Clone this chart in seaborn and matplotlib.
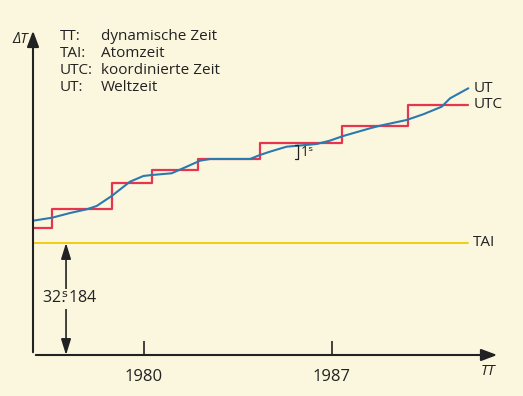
import matplotlib.pyplot as plt
import seaborn as sns
import pandas as pd

# Daten (x in Jahren, y in Bildeinheiten ueber der TT-Achse)
utc_jahre = [1975.87, 1976.59, 1978.80, 1980.29, 1982.02, 1984.32, 1987.37, 1989.82, 1992.06]
utc_werte = [127.3, 145.7, 171.7, 185.0, 196.0, 212.3, 229.0, 250.0, 250.0]

ut_jahre = [1975.87, 1976.58, 1977.25, 1977.87, 1978.24, 1978.80, 1979.48, 1979.98,
            1980.29, 1981.03, 1981.59, 1982.09, 1982.46, 1983.95, 1984.32, 1984.69,
            1985.31, 1986.43, 1986.92, 1987.42, 1988.42, 1988.79, 1989.78, 1990.40,
            1991.09, 1991.40, 1992.08]
ut_werte = [134.3, 137.3, 142.0, 145.7, 149.0, 159.0, 173.3, 179.0, 180.0, 181.7,
            188.3, 194.3, 196.0, 196.0, 200.0, 203.3, 208.3, 211.0, 214.3, 219.0,
            226.7, 229.3, 235.0, 240.7, 248.3, 256.7, 266.7]

tai_jahre = [1975.87, 1992.06]
tai_werte = [112.0, 112.0]

ticks = [1980, 1987]
legende = [("TT:", "dynamische Zeit"), ("TAI:", "Atomzeit"),
           ("UTC:", "koordinierte Zeit"), ("UT:", "Weltzeit")]

bg = "#FBF7DE"
rot = "#E8354E"
blau = "#2A7AB0"
gelb = "#EECB00"
ink = "#222222"

sns.set_theme(style="white")
plt.rcParams["font.family"] = ["Open Sans", "DejaVu Sans"]

fig = plt.figure(figsize=(5.23, 3.96), dpi=100, facecolor=bg)
ax = fig.add_axes([33 / 523, 41 / 396, 467 / 523, 327 / 396])
ax.set_facecolor(bg)

df_utc = pd.DataFrame({"jahr": utc_jahre, "wert": utc_werte})
df_ut = pd.DataFrame({"jahr": ut_jahre, "wert": ut_werte})
df_tai = pd.DataFrame({"jahr": tai_jahre, "wert": tai_werte})

sns.lineplot(data=df_tai, x="jahr", y="wert", color=gelb, lw=1.3, ax=ax)
sns.lineplot(data=df_utc, x="jahr", y="wert", color=rot, lw=1.6,
             drawstyle="steps-post", ax=ax)
sns.lineplot(data=df_ut, x="jahr", y="wert", color=blau, lw=1.5, ax=ax)

ax.set_xlim(1975.87, 1993.26)
ax.set_ylim(0, 327)
for s in ax.spines.values():
    s.set_visible(False)

ax.set_xticks(ticks)
ax.set_xticklabels([str(t) for t in ticks], fontsize=12, color=ink)
ax.set_yticks([])
ax.tick_params(axis="x", bottom=True, direction="in", length=10, width=1.2, color=ink, pad=10)
ax.set_xlabel("")
ax.set_ylabel("")

# Achsenpfeile
ax.annotate("", xy=(1, 0), xytext=(0, 0), xycoords="axes fraction",
            arrowprops=dict(arrowstyle="-|>,head_length=0.8,head_width=0.3", color=ink, lw=1.5))
ax.annotate("", xy=(0, 1), xytext=(0, 0), xycoords="axes fraction",
            arrowprops=dict(arrowstyle="-|>,head_length=0.8,head_width=0.3", color=ink, lw=1.5))
ax.text(-0.01, 0.965, "ΔT", transform=ax.transAxes, ha="right", va="center",
        fontsize=10.5, style="italic", color=ink)
ax.text(0.975, -0.05, "TT", transform=ax.transAxes, ha="center", va="center",
        fontsize=10.5, style="italic", color=ink)

# Legende oben links
for i, (k, v) in enumerate(legende):
    ax.text(0.057, 0.975 - i * 0.052, k, transform=ax.transAxes, ha="left", va="center",
            fontsize=11, color=ink)
    ax.text(0.145, 0.975 - i * 0.052, v, transform=ax.transAxes, ha="left", va="center",
            fontsize=11, color=ink)

# Beschriftungen rechts
ax.text(utc_jahre[-1] + 0.2, ut_werte[-1], "UT", ha="left", va="center", fontsize=11, color=ink)
ax.text(utc_jahre[-1] + 0.2, utc_werte[-1], "UTC", ha="left", va="center", fontsize=11, color=ink)
ax.text(tai_jahre[-1] + 0.2, tai_werte[-1], "TAI", ha="left", va="center", fontsize=11, color=ink)

# Doppelpfeil 32.184 s
ax.annotate("", xy=(1977.10, 0), xytext=(1977.10, tai_werte[0]),
            arrowprops=dict(arrowstyle="<|-|>,head_length=0.8,head_width=0.25", color=ink, lw=1.2,
                            shrinkA=0, shrinkB=0))
ax.text(1977.25, 56, r"32$\overset{\mathrm{s}}{.}$184", ha="center", va="center", fontsize=11.5,
        color=ink, bbox=dict(boxstyle="square,pad=0.1", fc=bg, ec="none"))

# 1 s Klammer
ax.plot([1985.62, 1985.72, 1985.72, 1985.62], [210, 210, 196, 196], color=ink, lw=0.9)
ax.text(1985.85, 202, "1ˢ", ha="left", va="center", fontsize=10, color=ink)

plt.savefig("out.png", dpi=100, facecolor=bg)
